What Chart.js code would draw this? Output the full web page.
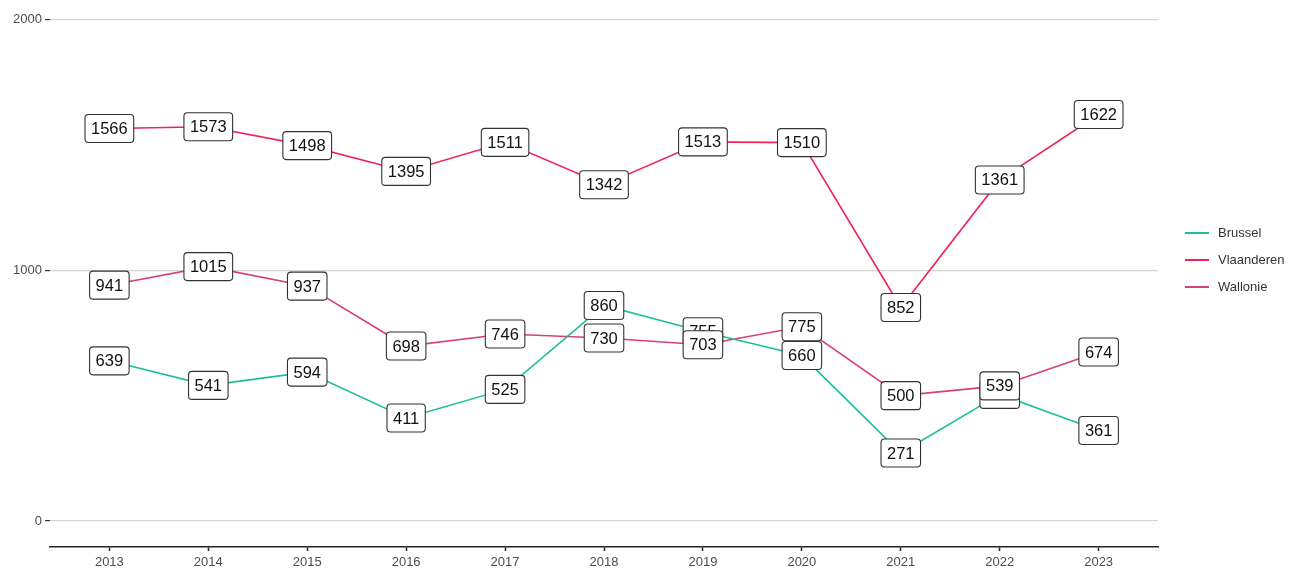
<!DOCTYPE html>
<html>
<head>
<meta charset="utf-8">
<script src="https://cdn.jsdelivr.net/npm/chart.js@4"></script>
<style>
	html, body {margin: 0; padding: 0; background: #ffffff;}
	#wrap {position: relative; width: 1295px; height: 570px;}
</style>
</head>
<body>
<div id="wrap"><canvas id="chart"></canvas></div>
<script>
// data
const years = [2013, 2014, 2015, 2016, 2017, 2018, 2019, 2020, 2021, 2022, 2023];
const brussel = [639, 541, 594, 411, 525, 860, 755, 660, 271, 505, 361];
const vlaanderen = [1566, 1573, 1498, 1395, 1511, 1342, 1513, 1510, 852, 1361, 1622];
const wallonie = [941, 1015, 937, 698, 746, 730, 703, 775, 500, 539, 674];
const yTicks = [0, 1000, 2000];

const series = [
	{"label": "Brussel", "values": brussel, "color": "#1dbf9a"},
	{"label": "Vlaanderen", "values": vlaanderen, "color": "#ef2559"},
	{"label": "Wallonie", "values": wallonie, "color": "#d8406f"},
];

function roundRect(ctx, x, y, w, h, r) {
	ctx.beginPath();
	ctx.moveTo(x + r, y);
	ctx.lineTo(x + w - r, y);
	ctx.quadraticCurveTo(x + w, y, x + w, y + r);
	ctx.lineTo(x + w, y + h - r);
	ctx.quadraticCurveTo(x + w, y + h, x + w - r, y + h);
	ctx.lineTo(x + r, y + h);
	ctx.quadraticCurveTo(x, y + h, x, y + h - r);
	ctx.lineTo(x, y + r);
	ctx.quadraticCurveTo(x, y, x + r, y);
	ctx.closePath();
}

// value boxes on top of every point
const labelBoxes = {
	"id": "labelBoxes",
	"afterDatasetsDraw": function (chart) {
		const ctx = chart.ctx;
		ctx.save();
		ctx.font = "16.5px 'Liberation Sans', Arial, sans-serif";
		ctx.textAlign = "center";
		ctx.textBaseline = "middle";
		chart.data.datasets.forEach(function (ds, i) {
			const meta = chart.getDatasetMeta(i);
			meta.data.forEach(function (pt, j) {
				const text = String(ds.data[j].y);
				const w = ctx.measureText(text).width + 12;
				const h = 28;
				roundRect(ctx, pt.x - w / 2, pt.y - h / 2, w, h, 3.5);
				ctx.fillStyle = "#ffffff";
				ctx.fill();
				ctx.lineWidth = 1.1;
				ctx.strokeStyle = "#333333";
				ctx.stroke();
				ctx.fillStyle = "#111111";
				ctx.fillText(text, pt.x, pt.y + 1);
			});
		});
		ctx.restore();
	},
};

// legend at the right, ggplot style
const sideLegend = {
	"id": "sideLegend",
	"afterDraw": function (chart) {
		const ctx = chart.ctx;
		ctx.save();
		ctx.font = "13px 'Liberation Sans', Arial, sans-serif";
		ctx.textBaseline = "middle";
		ctx.textAlign = "left";
		series.forEach(function (s, i) {
			const y = 233 + i * 27;
			ctx.strokeStyle = s.color;
			ctx.lineWidth = 2;
			ctx.beginPath();
			ctx.moveTo(1185, y);
			ctx.lineTo(1209, y);
			ctx.stroke();
			ctx.fillStyle = "#333333";
			ctx.fillText(s.label, 1218, y);
		});
		ctx.restore();
	},
};

const canvas = document.getElementById("chart");
canvas.width = 1295;
canvas.height = 570;

new Chart(canvas, {
	"type": "line",
	"data": {
		"datasets": series.map((s) => ({
			"label": s.label,
			"data": years.map((yr, i) => ({"x": yr, "y": s.values[i]})),
			"borderColor": s.color,
			"backgroundColor": s.color,
			"borderWidth": 1.6,
			"pointRadius": 0,
			"tension": 0,
		})),
	},
	"options": {
		"responsive": false,
		"animation": false,
		"layout": {"padding": {"left": 0, "right": 137, "top": 0, "bottom": 0}},
		"plugins": {
			"legend": {"display": false},
			"tooltip": {"enabled": false},
		},
		"scales": {
			"x": {
				"type": "linear",
				"min": 2012.4,
				"max": 2023.6,
				"afterBuildTicks": (scale) => {scale.ticks = years.map((v) => ({"value": v}));},
				"afterFit": (scale) => {scale.height = 23;},
				"border": {"display": true, "color": "#222222", "width": 1.5},
				"grid": {"drawOnChartArea": false, "drawTicks": true, "tickLength": 4, "tickColor": "#222222", "tickWidth": 1.5},
				"ticks": {
					"callback": (v) => String(v),
					"color": "#4d4d4d",
					"font": {"family": "'Liberation Sans', Arial, sans-serif", "size": 13},
					"padding": 4,
					"maxRotation": 0,
				},
			},
			"y": {
				"type": "linear",
				"min": -104,
				"max": 2036,
				"afterBuildTicks": (scale) => {scale.ticks = yTicks.map((v) => ({"value": v}));},
				"afterFit": (scale) => {scale.width = 50;},
				"border": {"display": false},
				"grid": {"color": "#d4d4d4", "lineWidth": 1.2, "drawTicks": true, "tickLength": 5, "tickColor": "#333333"},
				"ticks": {
					"callback": (v) => String(v),
					"color": "#4d4d4d",
					"font": {"family": "'Liberation Sans', Arial, sans-serif", "size": 13},
					"padding": 3,
				},
			},
		},
	},
	"plugins": [labelBoxes, sideLegend],
});
</script>
</body>
</html>
